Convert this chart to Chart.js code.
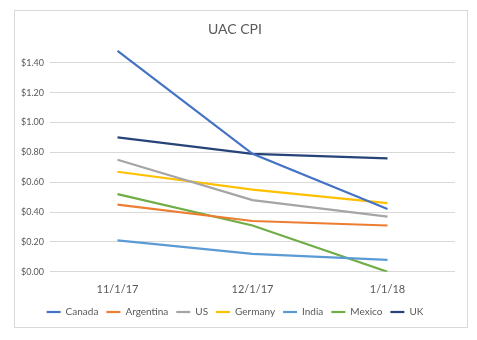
<!DOCTYPE html>
<html>
<head>
<meta charset="utf-8">
<script src="https://cdn.jsdelivr.net/npm/chart.js@4"></script>
<style>
  body { margin: 0; background: #fff; }
  #box {
    position: absolute; left: 14px; top: 10px;
    width: 452px; height: 316px;
    border: 1px solid #d9d9d9; background: #fff;
  }
</style>
</head>
<body>
<div id="box"><canvas id="chart"></canvas></div>
<script>
/* ─── Datos ─── */
const DATES     = ['11/1/17', '12/1/17', '1/1/18'];
const CANADA    = [1.48, 0.79, 0.42];
const ARGENTINA = [0.45, 0.34, 0.31];
const US        = [0.75, 0.48, 0.37];
const GERMANY   = [0.67, 0.55, 0.46];
const INDIA     = [0.21, 0.12, 0.08];
const MEXICO    = [0.52, 0.31, 0.00];
const UK        = [0.90, 0.79, 0.76];

const FONT = 'Lato';
const GREY = '#595959';

const series = [
  { label: 'Canada',    data: CANADA,    color: '#4472C4' },
  { label: 'Argentina', data: ARGENTINA, color: '#ED7D31' },
  { label: 'US',        data: US,        color: '#A5A5A5' },
  { label: 'Germany',   data: GERMANY,   color: '#FFC000' },
  { label: 'India',     data: INDIA,     color: '#5B9BD5' },
  { label: 'Mexico',    data: MEXICO,    color: '#70AD47' },
  { label: 'UK',        data: UK,        color: '#264478' },
];

new Chart(document.getElementById('chart'), {
  type: 'line',
  data: {
    labels: DATES,
    datasets: series.map(s => ({
      label:           s.label,
      data:            s.data,
      borderColor:     s.color,
      backgroundColor: s.color,
      borderWidth:     2.2,
      pointRadius:     0,
      tension:         0,
    })),
  },
  options: {
    responsive: true,
    maintainAspectRatio: false,
    animation: false,
    layout: { padding: { left: 0, right: 12, top: 4, bottom: 0 } },
    plugins: {
      title: {
        display: true,
        text: 'UAC CPI',
        color: GREY,
        font: { family: FONT, size: 14, weight: 'normal' },
        padding: { top: 6, bottom: 10 },
      },
      legend: {
        position: 'bottom',
        labels: {
          usePointStyle: true,
          pointStyle: 'line',
          pointStyleWidth: 14,
          boxHeight: 2,
          color: GREY,
          font: { family: FONT, size: 10 },
          padding: 8,
        },
      },
      tooltip: { enabled: false },
    },
    scales: {
      x: {
        offset: true,
        grid: { display: false },
        border: { display: false },
        ticks: { color: GREY, font: { family: FONT, size: 11 }, padding: 3 },
      },
      y: {
        min: 0,
        max: 1.5,
        afterBuildTicks: scale => {
          scale.ticks = scale.ticks.filter(t => Math.abs(t.value * 5 - Math.round(t.value * 5)) < 1e-6);
        },
        grid: { color: '#d9d9d9', drawTicks: false },
        border: { display: false },
        ticks: {
          stepSize: 0.2,
          color: GREY,
          padding: 6,
          font: { family: FONT, size: 9 },
          callback: v => '$' + Number(v).toFixed(2),
        },
      },
    },
  },
});
</script>
</body>
</html>
